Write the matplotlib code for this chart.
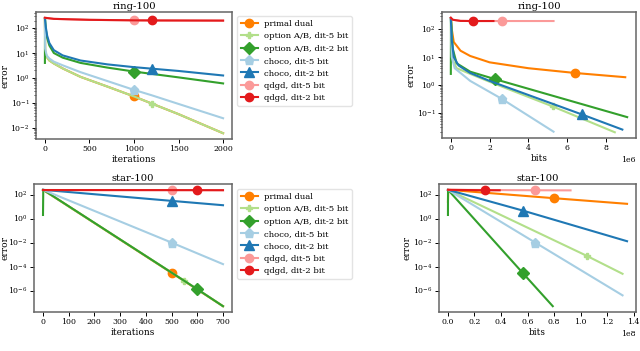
import matplotlib
matplotlib.use("Agg")
import matplotlib.pyplot as plt

plt.rcParams['font.family'] = ['DejaVu Serif']
plt.rcParams['mathtext.fontset'] = 'dejavuserif'

labels = ["primal dual", "option A/B, dit-5 bit", "option A/B, dit-2 bit",
          "choco, dit-5 bit", "choco, dit-2 bit", "qdgd, dit-5 bit", "qdgd, dit-2 bit"]
colors = ["#ff7f00", "#b2df8a", "#33a02c", "#a6cee3", "#1f78b4", "#fb9a99", "#e31a1c"]
markers = ["o", "P", "D", "p", "^", "o", "o"]
msizes = [6, 4.5, 6, 6.5, 7, 6, 6]

# ---------------- ring-100, iterations ----------------
ring_it_x_light = [0, 3, 20, 50, 100, 200, 400, 700, 1000, 1200, 1500, 2000]
ring_it_pd = [250, 12, 7, 5, 3.8, 2.4, 1.1, 0.45, 0.18, 0.093, 0.035, 0.006]
ring_it_optA5 = [250, 12, 7, 5, 3.8, 2.4, 1.1, 0.45, 0.18, 0.093, 0.035, 0.006]
ring_it_choco5 = [250, 15, 8, 6, 4.5, 3.2, 1.7, 0.75, 0.33, 0.2, 0.09, 0.024]
ring_it_x_optA2 = [0, 1, 10, 25, 50, 100, 200, 400, 700, 1000, 1500, 2000]
ring_it_optA2 = [4, 250, 90, 40, 20, 10, 6.5, 4, 2.6, 1.8, 1.05, 0.6]
ring_it_x_choco2 = [0, 10, 25, 50, 100, 200, 400, 700, 1000, 1200, 1500, 2000]
ring_it_choco2 = [250, 110, 50, 25, 13, 8, 5, 3.5, 2.7, 2.35, 1.9, 1.25]
ring_it_x_qdgd = [0, 100, 500, 1000, 1200, 1500, 2000]
ring_it_qdgd5 = [260, 235, 215, 205, 203, 202, 200]
ring_it_qdgd2 = [260, 235, 215, 205, 203, 202, 200]
ring_it_marks = [1000, 1200, 1000, 1000, 1200, 1000, 1200]

# ---------------- ring-100, bits ----------------
ring_b_x_pd = [0, 0.05e6, 0.15e6, 0.5e6, 1e6, 2e6, 4e6, 6.4e6, 9.0e6]
ring_b_pd = [250, 100, 35, 17, 11, 6.5, 4, 2.7, 1.9]
ring_b_x_optA5 = [0, 0.02e6, 0.1e6, 0.3e6, 1e6, 2e6, 5.25e6, 8.46e6]
ring_b_optA5 = [250, 20, 8, 4, 2.5, 1.3, 0.17, 0.02]
ring_b_x_optA2 = [0, 0.01e6, 0.1e6, 0.3e6, 1e6, 2.3e6, 9.1e6]
ring_b_optA2 = [2.5, 250, 20, 6, 3, 1.6, 0.07]
ring_b_x_choco5 = [0, 0.05e6, 0.2e6, 1e6, 2.62e6, 5.3e6]
ring_b_choco5 = [250, 10, 4, 1.4, 0.32, 0.021]
ring_b_x_choco2 = [0, 0.05e6, 0.15e6, 0.4e6, 1e6, 2e6, 6.77e6, 8.85e6]
ring_b_choco2 = [250, 40, 10, 5, 2.7, 1.4, 0.087, 0.025]
ring_b_x_qdgd5 = [0, 0.1e6, 0.5e6, 1e6, 2.62e6, 5.3e6]
ring_b_qdgd5 = [260, 220, 200, 198, 198, 198]
ring_b_x_qdgd2 = [0, 0.1e6, 0.5e6, 1.15e6, 2.2e6]
ring_b_qdgd2 = [260, 220, 200, 198, 198]
ring_b_marks = [6.4e6, 5.25e6, 2.3e6, 2.62e6, 6.77e6, 2.62e6, 1.15e6]

# ---------------- star-100, iterations ----------------
star_it_x_pd = [0, 500, 700]
star_it_pd = [250, 3e-5, 5e-8]
star_it_x_optA5 = [0, 550, 700]
star_it_optA5 = [250, 6.5e-6, 5e-8]
star_it_x_optA2 = [0, 1, 600, 700]
star_it_optA2 = [2, 250, 1.3e-6, 5e-8]
star_it_x_choco5 = [0, 500, 700]
star_it_choco5 = [250, 0.01, 1.6e-4]
star_it_x_choco2 = [0, 500, 700]
star_it_choco2 = [250, 30, 13]
star_it_x_qdgd5 = [0, 500, 700]
star_it_qdgd5 = [240, 235, 232]
star_it_x_qdgd2 = [0, 600, 700]
star_it_qdgd2 = [240, 235, 232]
star_it_marks = [500, 550, 600, 500, 500, 500, 600]

# ---------------- star-100, bits ----------------
star_b_x_pd = [0, 0.002e8, 0.8e8, 1.35e8]
star_b_pd = [25, 250, 50, 17]
star_b_x_optA5 = [0, 1.045e8, 1.316e8]
star_b_optA5 = [250, 8e-4, 2.5e-5]
star_b_x_optA2 = [0, 0.0005e8, 0.563e8, 0.79e8]
star_b_optA2 = [2, 250, 3e-5, 5e-8]
star_b_x_choco5 = [0, 0.658e8, 1.316e8]
star_b_choco5 = [250, 0.01, 4e-7]
star_b_x_choco2 = [0, 0.563e8, 1.35e8]
star_b_choco2 = [250, 4.7, 0.013]
star_b_x_qdgd5 = [0, 0.658e8, 0.924e8]
star_b_qdgd5 = [250, 230, 225]
star_b_x_qdgd2 = [0, 0.278e8, 0.39e8]
star_b_qdgd2 = [250, 230, 228]
star_b_marks = [0.8e8, 1.045e8, 0.563e8, 0.658e8, 0.563e8, 0.658e8, 0.278e8]

panels = [
    ("ring-100", "iterations",
     [(ring_it_x_light, ring_it_pd), (ring_it_x_light, ring_it_optA5),
      (ring_it_x_optA2, ring_it_optA2), (ring_it_x_light, ring_it_choco5),
      (ring_it_x_choco2, ring_it_choco2), (ring_it_x_qdgd, ring_it_qdgd5),
      (ring_it_x_qdgd, ring_it_qdgd2)], ring_it_marks,
     [36 / 640, 1 - 139 / 351, 196 / 640, 127 / 351]),
    ("ring-100", "bits",
     [(ring_b_x_pd, ring_b_pd), (ring_b_x_optA5, ring_b_optA5),
      (ring_b_x_optA2, ring_b_optA2), (ring_b_x_choco5, ring_b_choco5),
      (ring_b_x_choco2, ring_b_choco2), (ring_b_x_qdgd5, ring_b_qdgd5),
      (ring_b_x_qdgd2, ring_b_qdgd2)], ring_b_marks,
     [442 / 640, 1 - 138 / 351, 194 / 640, 126 / 351]),
    ("star-100", "iterations",
     [(star_it_x_pd, star_it_pd), (star_it_x_optA5, star_it_optA5),
      (star_it_x_optA2, star_it_optA2), (star_it_x_choco5, star_it_choco5),
      (star_it_x_choco2, star_it_choco2), (star_it_x_qdgd5, star_it_qdgd5),
      (star_it_x_qdgd2, star_it_qdgd2)], star_it_marks,
     [34 / 640, 1 - 312 / 351, 198 / 640, 128 / 351]),
    ("star-100", "bits",
     [(star_b_x_pd, star_b_pd), (star_b_x_optA5, star_b_optA5),
      (star_b_x_optA2, star_b_optA2), (star_b_x_choco5, star_b_choco5),
      (star_b_x_choco2, star_b_choco2), (star_b_x_qdgd5, star_b_qdgd5),
      (star_b_x_qdgd2, star_b_qdgd2)], star_b_marks,
     [439 / 640, 1 - 312 / 351, 197 / 640, 128 / 351]),
]

fig = plt.figure(figsize=(6.4, 3.51), dpi=100)
axes = []
for title, xlabel, series, marks, rect in panels:
    ax = fig.add_axes(rect)
    for i, ((xs, ys), mx) in enumerate(zip(series, marks)):
        idx = min(range(len(xs)), key=lambda k: abs(xs[k] - mx))
        ax.plot(xs, ys, color=colors[i], lw=1.5, marker=markers[i],
                markersize=msizes[i], markevery=[idx], label=labels[i])
    ax.set_yscale("log")
    ax.set_title(title, fontsize=7.2, pad=2)
    ax.set_xlabel(xlabel, fontsize=6.5, labelpad=1)
    ax.set_ylabel("error", fontsize=6.5, labelpad=1)
    ax.tick_params(labelsize=5.6, length=3, width=0.7, pad=1.5)
    ax.tick_params(which="minor", length=1.8, width=0.5)
    ax.xaxis.get_offset_text().set_fontsize(5.6)
    for sp in ax.spines.values():
        sp.set_edgecolor("#666666")
        sp.set_linewidth(1.1)
    axes.append(ax)

# keep the lower-left y label inside the canvas
axes[2].yaxis.set_label_coords(-0.125, 0.5)

for k, ytop in ((0, 16), (2, 189)):
    axes[k].legend(loc="upper left", bbox_to_anchor=(237 / 640, 1 - ytop / 351),
                   bbox_transform=fig.transFigure, fontsize=6.1, labelspacing=0.52,
                   handlelength=2.0, handletextpad=0.7, borderpad=0.45,
                   framealpha=0.8, edgecolor="#dddddd", borderaxespad=0)

fig.savefig("out.png", dpi=100)
